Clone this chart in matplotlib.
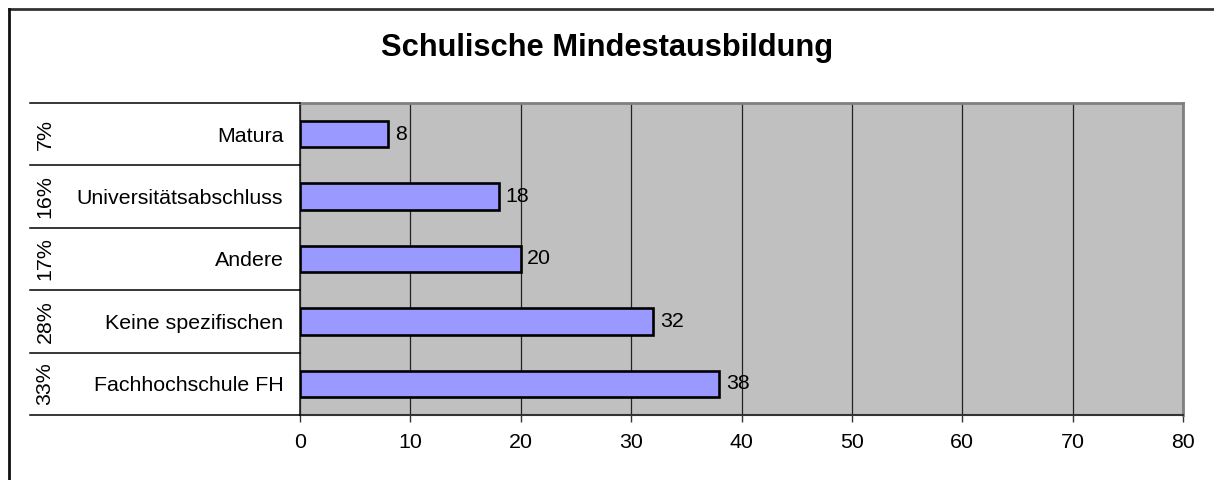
import matplotlib
matplotlib.use("Agg")
import matplotlib.pyplot as plt
from matplotlib.lines import Line2D
from matplotlib.transforms import blended_transform_factory

plt.rcParams['font.family'] = ['Liberation Sans', 'DejaVu Sans']

# data, bottom to top
categories = ["Fachhochschule FH", "Keine spezifischen", "Andere",
              "Universitätsabschluss", "Matura"]
values = [38, 32, 20, 18, 8]
percents = ["33%", "28%", "17%", "16%", "7%"]
xticks = [0, 10, 20, 30, 40, 50, 60, 70, 80]

W, H = 1214, 480
FS = 15.4
fig = plt.figure(figsize=(W / 100, H / 100), dpi=100)
ax = fig.add_axes([300 / W, 1 - 415 / H, 883 / W, 312 / H])

ax.set_facecolor("#C0C0C0")
ypos = list(range(len(categories)))
ax.barh(ypos, values, height=0.42, color="#9999FF", edgecolor="black",
        linewidth=1.9, zorder=3)
for y, v in zip(ypos, values):
    ax.text(v + 0.6, y, str(v), va="center", ha="left", fontsize=FS, zorder=4)

ax.set_xlim(0, 80)
ax.set_ylim(-0.5, len(categories) - 0.5)
ax.set_xticks(xticks)
ax.set_xticklabels([str(t) for t in xticks], fontsize=FS)
ax.tick_params(axis="x", length=5, width=1, color="#333333", pad=8)
ax.xaxis.grid(True, color="#222222", linewidth=0.9, zorder=1)
ax.set_axisbelow(True)

ax.set_yticks(ypos)
ax.set_yticklabels(categories, fontsize=FS)
ax.tick_params(axis="y", length=0, pad=12)

ax.spines["top"].set_color("#808080")
ax.spines["right"].set_color("#808080")
ax.spines["top"].set_linewidth(2)
ax.spines["right"].set_linewidth(2)
ax.spines["bottom"].set_color("#333333")
ax.spines["bottom"].set_linewidth(1.5)
ax.spines["left"].set_color("#222222")
ax.spines["left"].set_linewidth(1.2)

# table-like category axis
tr = blended_transform_factory(fig.transFigure, ax.transData)
x0, x1 = 30 / W, 300 / W
for b in [y - 0.5 for y in ypos] + [ypos[-1] + 0.5]:
    fig.add_artist(Line2D([x0, x1], [b, b], transform=tr, color="black",
                          linewidth=1.1))
for y, p in zip(ypos, percents):
    fig.text(45 / W, y, p, transform=tr, rotation=90, ha="center",
             va="center", fontsize=FS)

fig.text(0.5, 1 - 48 / H, "Schulische Mindestausbildung", ha="center",
         va="center", fontsize=22.2, fontweight="bold")

# outer chart border (runs off right and bottom edge)
fig.add_artist(Line2D([8.5 / W, 1.01], [1 - 8.5 / H, 1 - 8.5 / H],
                      transform=fig.transFigure, color="#333333", linewidth=2))
fig.add_artist(Line2D([8.5 / W, 8.5 / W], [-0.01, 1 - 8.5 / H],
                      transform=fig.transFigure, color="#111111", linewidth=2))

fig.savefig("out.png", dpi=100)
